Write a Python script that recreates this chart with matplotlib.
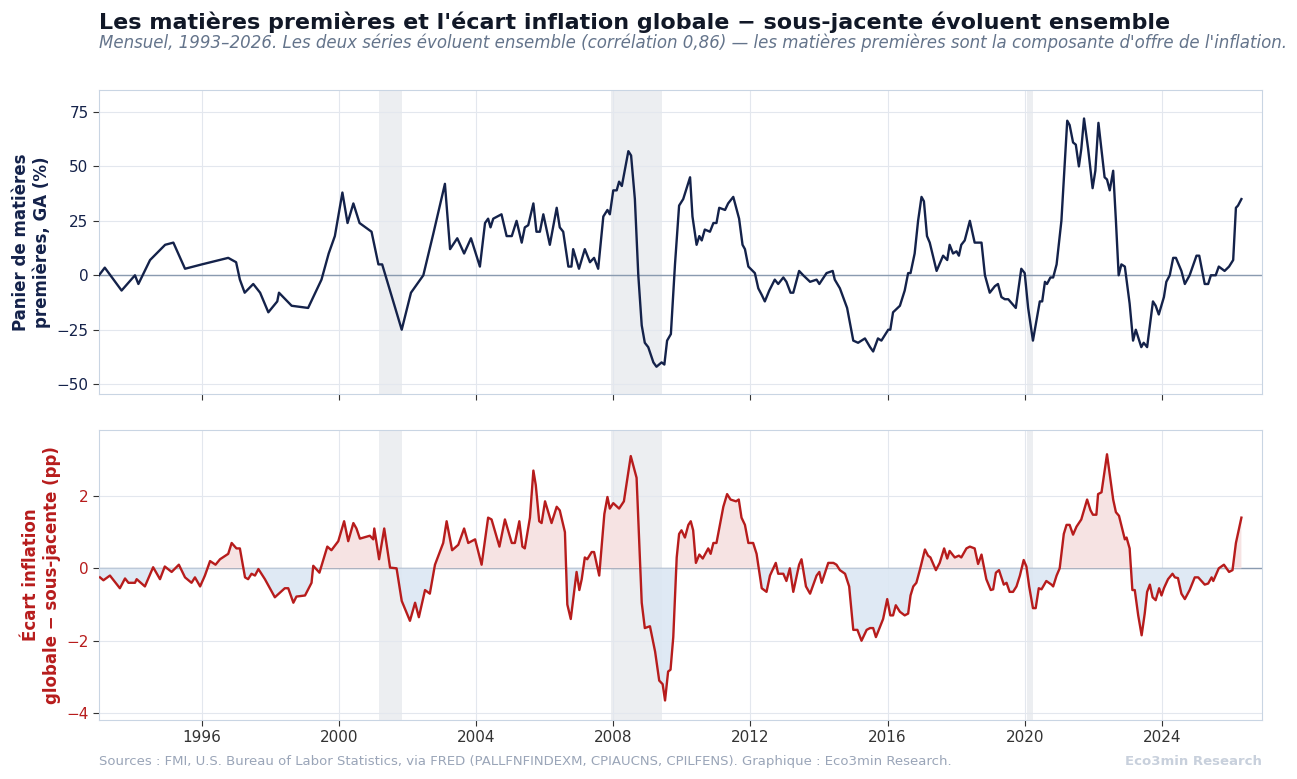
import matplotlib
matplotlib.use("Agg")
import matplotlib.pyplot as plt
import numpy as np

# Commodity basket YoY (%)
com_t = [1993.0,1993.17,1993.66,1994.05,1994.15,1994.49,1994.93,1995.17,1995.51,1996.0,1996.77,1997.0,1997.11,1997.25,1997.5,1997.7,1997.94,1998.2,1998.25,1998.62,1999.1,1999.49,1999.7,1999.88,2000.1,2000.25,2000.42,2000.6,2000.95,2001.15,2001.26,2001.45,2001.83,2002.1,2002.46,2002.75,2003.09,2003.24,2003.45,2003.65,2003.85,2004.11,2004.26,2004.35,2004.42,2004.5,2004.74,2004.89,2005.04,2005.18,2005.33,2005.42,2005.52,2005.67,2005.76,2005.86,2005.96,2006.15,2006.35,2006.44,2006.54,2006.69,2006.78,2006.83,2007.0,2007.17,2007.32,2007.44,2007.56,2007.71,2007.83,2007.9,2008.0,2008.1,2008.17,2008.25,2008.44,2008.52,2008.63,2008.73,2008.83,2008.92,2009.02,2009.17,2009.26,2009.41,2009.49,2009.57,2009.68,2009.8,2009.92,2010.04,2010.24,2010.31,2010.43,2010.51,2010.58,2010.67,2010.82,2010.92,2011.01,2011.09,2011.26,2011.35,2011.5,2011.67,2011.77,2011.84,2011.94,2012.13,2012.23,2012.33,2012.42,2012.55,2012.71,2012.81,2012.96,2013.05,2013.17,2013.25,2013.42,2013.54,2013.74,2013.93,2014.01,2014.22,2014.4,2014.46,2014.61,2014.82,2015.0,2015.14,2015.34,2015.49,2015.58,2015.72,2015.82,2016.02,2016.08,2016.16,2016.36,2016.5,2016.6,2016.67,2016.79,2016.89,2016.99,2017.06,2017.15,2017.23,2017.43,2017.62,2017.74,2017.81,2017.91,2018.01,2018.08,2018.15,2018.25,2018.4,2018.54,2018.74,2018.84,2018.98,2019.13,2019.22,2019.32,2019.42,2019.52,2019.74,2019.9,2020.0,2020.1,2020.24,2020.44,2020.51,2020.59,2020.65,2020.75,2020.83,2020.93,2021.07,2021.24,2021.31,2021.41,2021.49,2021.58,2021.65,2021.73,2021.85,2021.98,2022.06,2022.15,2022.33,2022.4,2022.48,2022.58,2022.66,2022.74,2022.82,2022.92,2023.06,2023.16,2023.24,2023.4,2023.47,2023.57,2023.74,2023.82,2023.91,2024.06,2024.13,2024.23,2024.33,2024.41,2024.57,2024.67,2024.81,2025.01,2025.09,2025.25,2025.35,2025.43,2025.57,2025.66,2025.83,2025.96,2026.08,2026.16,2026.22,2026.32]
com_v = [0,3.5,-7,0,-4,7,14,15,3,5,8,6,-2,-8,-4,-8,-17,-12,-8,-14,-15,-2,10,18,38,24,33,24,20,5,5,-5,-25,-8,0,19,42,12,17,10,17,4,24,26,22,26,28,18,18,25,15,22,23,33,20,20,28,14,31,22,20,4,4,12,3,12,6,8,3,27,30,28,39,39,43,41,57,55,35,0,-23,-31,-33,-40,-42,-40,-41,-30,-27,5,32,35,45,27,14,18,16,21,20,24,24,31,30,33,36,26,14,12,4,1,-6,-9,-12,-7,-2,-4,-1,-3,-8,-8,2,0,-3,-2,-4,1,2,-2,-6,-15,-30,-31,-29,-33,-35,-29,-30,-25,-25,-17,-14,-7,1,1,10,25,36,34,18,15,2,9,7,14,10,11,9,14,16,25,15,15,0,-8,-5,-4,-10,-11,-11,-15,3,1,-15,-30,-12,-12,-3,-4,-1,-1,5,25,71,69,61,60,50,58,72,58,40,48,70,45,44,39,48,25,0,5,4,-13,-30,-25,-33,-31,-33,-12,-14,-18,-10,-3,0,8,8,2,-4,0,9,9,-4,-4,0,0,4,2,4,7,31,32,35]

# Headline - core inflation gap (pp)
gap_t = [1993.03,1993.13,1993.32,1993.61,1993.76,1993.86,1994.05,1994.1,1994.34,1994.58,1994.78,1994.92,1995.12,1995.33,1995.51,1995.7,1995.8,1995.95,1996.09,1996.24,1996.4,1996.53,1996.77,1996.87,1997.01,1997.11,1997.26,1997.35,1997.45,1997.55,1997.65,1997.84,1998.13,1998.42,1998.52,1998.67,1998.76,1999.01,1999.2,1999.25,1999.43,1999.66,1999.78,1999.98,2000.15,2000.27,2000.42,2000.51,2000.61,2000.9,2001.0,2001.03,2001.17,2001.32,2001.49,2001.68,2001.83,2002.07,2002.22,2002.33,2002.51,2002.65,2002.8,2003.04,2003.14,2003.3,2003.48,2003.65,2003.77,2003.97,2004.16,2004.35,2004.45,2004.68,2004.84,2005.04,2005.13,2005.26,2005.35,2005.42,2005.57,2005.67,2005.74,2005.84,2005.91,2006.01,2006.2,2006.35,2006.44,2006.59,2006.66,2006.76,2006.93,2007.01,2007.08,2007.17,2007.24,2007.37,2007.44,2007.59,2007.74,2007.83,2007.9,2008.0,2008.17,2008.31,2008.51,2008.58,2008.68,2008.83,2008.92,2009.07,2009.22,2009.34,2009.44,2009.51,2009.6,2009.67,2009.75,2009.85,2009.92,2009.99,2010.09,2010.19,2010.26,2010.33,2010.41,2010.51,2010.61,2010.77,2010.84,2010.92,2011.01,2011.11,2011.21,2011.32,2011.42,2011.58,2011.66,2011.74,2011.84,2011.94,2012.08,2012.18,2012.33,2012.47,2012.57,2012.74,2012.81,2012.96,2013.05,2013.15,2013.25,2013.42,2013.49,2013.62,2013.74,2013.93,2014.01,2014.08,2014.27,2014.42,2014.51,2014.61,2014.76,2014.88,2015.0,2015.12,2015.24,2015.39,2015.49,2015.58,2015.66,2015.87,2015.99,2016.08,2016.16,2016.24,2016.36,2016.5,2016.6,2016.67,2016.75,2016.84,2016.94,2017.09,2017.18,2017.25,2017.41,2017.52,2017.65,2017.74,2017.81,2017.96,2018.08,2018.15,2018.3,2018.4,2018.54,2018.64,2018.74,2018.88,2019.01,2019.08,2019.16,2019.25,2019.39,2019.47,2019.56,2019.66,2019.76,2019.86,2019.97,2020.05,2020.13,2020.24,2020.32,2020.41,2020.49,2020.63,2020.78,2020.83,2020.93,2021.02,2021.14,2021.22,2021.31,2021.41,2021.51,2021.65,2021.82,2021.92,2021.99,2022.09,2022.14,2022.24,2022.40,2022.58,2022.66,2022.75,2022.92,2022.97,2023.06,2023.14,2023.21,2023.31,2023.41,2023.5,2023.57,2023.65,2023.73,2023.82,2023.92,2023.99,2024.06,2024.18,2024.31,2024.38,2024.47,2024.57,2024.67,2024.81,2024.96,2025.06,2025.25,2025.35,2025.45,2025.5,2025.66,2025.81,2025.96,2026.06,2026.16,2026.32]
gap_v = [-0.25,-0.33,-0.2,-0.55,-0.28,-0.4,-0.4,-0.3,-0.5,0.03,-0.3,0.05,-0.1,0.1,-0.25,-0.4,-0.25,-0.5,-0.2,0.2,0.1,0.25,0.4,0.7,0.55,0.55,-0.25,-0.3,-0.15,-0.2,-0.02,-0.3,-0.8,-0.55,-0.55,-0.95,-0.78,-0.75,-0.4,0.07,-0.12,0.6,0.5,0.75,1.3,0.75,1.25,1.1,0.82,0.9,0.8,1.1,0.25,1.1,0.02,0.0,-0.9,-1.45,-0.95,-1.35,-0.6,-0.7,0.1,0.7,1.3,0.5,0.65,1.1,0.7,0.8,0.1,1.4,1.35,0.6,1.35,0.7,0.7,1.3,0.6,0.55,1.4,2.7,2.3,1.3,1.25,1.85,1.25,1.7,1.6,1.0,-1.0,-1.4,-0.1,-0.6,-0.3,0.3,0.25,0.45,0.45,-0.2,1.5,1.97,1.65,1.8,1.65,1.85,3.1,2.85,2.5,-0.95,-1.65,-1.6,-2.3,-3.1,-3.2,-3.65,-2.85,-2.8,-1.9,0.3,0.95,1.05,0.85,1.2,1.3,1.05,0.15,0.38,0.27,0.55,0.4,0.7,0.7,1.2,1.7,2.05,1.9,1.85,1.9,1.4,1.2,0.7,0.7,0.4,-0.55,-0.65,-0.2,0.15,-0.15,-0.15,-0.35,0.0,-0.65,0.1,0.25,-0.5,-0.7,-0.2,-0.1,-0.4,0.15,0.15,0.1,-0.05,-0.15,-0.5,-1.7,-1.7,-2.0,-1.7,-1.65,-1.65,-1.9,-1.4,-0.85,-1.3,-1.3,-1.02,-1.2,-1.3,-1.25,-0.75,-0.5,-0.4,-0.05,0.52,0.35,0.3,-0.05,0.15,0.55,0.27,0.48,0.3,0.35,0.3,0.55,0.6,0.55,0.12,0.38,-0.3,-0.6,-0.58,-0.12,-0.05,-0.45,-0.4,-0.65,-0.65,-0.5,-0.2,0.23,0.05,-0.5,-1.1,-1.1,-0.55,-0.58,-0.35,-0.45,-0.5,-0.2,0.0,0.95,1.2,1.2,0.93,1.15,1.35,1.9,1.6,1.48,1.48,2.05,2.1,3.15,1.9,1.55,1.45,0.8,0.85,0.55,-0.6,-0.6,-1.3,-1.85,-1.25,-0.65,-0.45,-0.8,-0.88,-0.55,-0.75,-0.55,-0.3,-0.15,-0.25,-0.27,-0.7,-0.85,-0.6,-0.25,-0.25,-0.45,-0.42,-0.25,-0.35,0.0,0.1,-0.1,-0.05,0.7,1.4]

recessions = [(2001.17, 2001.84), (2007.93, 2009.42), (2020.07, 2020.24)]
xticks = [1996, 2000, 2004, 2008, 2012, 2016, 2020, 2024]

NAVY = "#14224a"
RED = "#b71c1c"
SPINE = "#c9d5e3"
GRID = "#e3e7ee"
ZERO = "#8a9bb0"

fig = plt.figure(figsize=(12.97, 7.79), dpi=100)
ax1 = fig.add_axes([0.0763, 0.494, 0.8967, 0.3905])
ax2 = fig.add_axes([0.0763, 0.0757, 0.8967, 0.3723], sharex=ax1)

for ax in (ax1, ax2):
    for a, b in recessions:
        ax.axvspan(a, b, color="#eceef1", zorder=0, lw=0)
    ax.grid(True, color=GRID, lw=0.8, zorder=0)
    ax.axhline(0, color=ZERO, lw=1, zorder=1)
    for s in ax.spines.values():
        s.set_color(SPINE)
    ax.tick_params(colors="#333", labelsize=11, length=4, color="#333")
    ax.set_axisbelow(True)

ax1.plot(com_t, com_v, color=NAVY, lw=1.7, zorder=3)
ax1.set_ylim(-54.6, 85.1)
ax1.set_yticks([-50, -25, 0, 25, 50, 75])
ax1.set_yticklabels(["\u221250", "\u221225", "0", "25", "50", "75"])
ax1.tick_params(axis="y", labelcolor=NAVY)
ax1.tick_params(axis="x", labelbottom=False)
ax1.set_ylabel("Panier de mati\u00e8res\npremi\u00e8res, GA (%)", color=NAVY, fontsize=12, fontweight="bold")

gt = np.array(gap_t); gv = np.array(gap_v)
ax2.fill_between(gt, gv, 0, where=gv >= 0, interpolate=True, color="#f6e3e3", lw=0, zorder=2)
ax2.fill_between(gt, gv, 0, where=gv < 0, interpolate=True, color="#dce7f3", alpha=0.9, lw=0, zorder=2)
ax2.plot(gt, gv, color=RED, lw=1.7, zorder=3)
ax2.set_ylim(-4.19, 3.82)
ax2.set_yticks([-4, -2, 0, 2])
ax2.set_yticklabels(["\u22124", "\u22122", "0", "2"])
ax2.tick_params(axis="y", labelcolor=RED)
ax2.set_ylabel("\u00c9cart inflation\nglobale \u2212 sous-jacente (pp)", color=RED, fontsize=12, fontweight="bold")
ax2.set_xlim(1993.0, 2026.92)
ax2.set_xticks(xticks)

fig.text(0.0763, 0.972, "Les mati\u00e8res premi\u00e8res et l'\u00e9cart inflation globale \u2212 sous-jacente \u00e9voluent ensemble",
         fontsize=16, fontweight="bold", color="#111827", va="center")
fig.text(0.0763, 0.945, "Mensuel, 1993\u20132026. Les deux s\u00e9ries \u00e9voluent ensemble (corr\u00e9lation 0,86) \u2014 les mati\u00e8res premi\u00e8res sont la composante d'offre de l'inflation.",
         fontsize=12, style="italic", color="#64748b", va="center")
fig.text(0.0763, 0.022, "Sources : FMI, U.S. Bureau of Labor Statistics, via FRED (PALLFNFINDEXM, CPIAUCNS, CPILFENS). Graphique : Eco3min Research.",
         fontsize=9.5, color="#9aa5b8", va="center")
fig.text(0.973, 0.022, "Eco3min Research", fontsize=9.5, fontweight="bold", color="#c8d0dc", va="center", ha="right")

fig.savefig("out.png", dpi=100)
